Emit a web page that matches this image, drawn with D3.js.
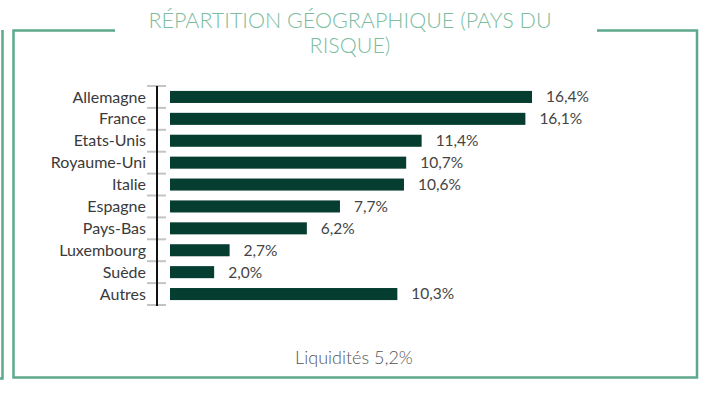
<!DOCTYPE html>
<html>
<head>
<meta charset="utf-8">
<script src="https://cdn.jsdelivr.net/npm/d3@7"></script>
<style>
  body { margin: 0; background: #fff; }
  svg { display: block; font-family: Lato, sans-serif; }
</style>
</head>
<body>
<svg id="chart" width="702" height="417"></svg>
<script>
var countries = ['Allemagne', 'France', 'Etats-Unis', 'Royaume-Uni', 'Italie', 'Espagne', 'Pays-Bas', 'Luxembourg', 'Suède', 'Autres']
var weights = [16.4, 16.1, 11.4, 10.7, 10.6, 7.7, 6.2, 2.7, 2.0, 10.3]
var title_lines = ['RÉPARTITION GÉOGRAPHIQUE (PAYS DU', 'RISQUE)']
var cash_label = 'Liquidités 5,2%'

var data = countries.map(function (c, i) { return { key: c, value: weights[i] } })
var fmt = function (v) { return v.toFixed(1).replace('.', ',') + '%' }

var svg = d3.select('#chart')
var frame_color = '#5ea98c'

// fragment of the neighbouring panel on the left
svg.append('path')
  .attr('d', 'M2.5,30 V378.5 H0')
  .attr('fill', 'none')
  .attr('stroke', frame_color)
  .attr('stroke-width', 2.5)

// frame with a gap for the title
svg.append('path')
  .attr('d', 'M115,30.5 H13.5 V377.5 H697 V30.5 H597')
  .attr('fill', 'none')
  .attr('stroke', frame_color)
  .attr('stroke-width', 2.5)

svg.append('g').selectAll('text')
  .data(title_lines)
  .join('text')
  .attr('x', 350)
  .attr('y', function (d, i) { return 28 + i * 25 })
  .attr('text-anchor', 'middle')
  .attr('fill', '#7cbda0')
  .style('font-size', '21.5px')
  .style('font-weight', 300)
  .text(function (d) { return d })

var x = d3.scaleLinear().domain([0, 16.4]).range([170, 532])
var y = d3.scaleBand().domain(countries).range([86, 305]).paddingInner(0.45).paddingOuter(0.225)

// gray separators between the categories
var step = y.step()
var edges = d3.range(countries.length + 1).map(function (i) { return 86 + i * step })
svg.append('g').selectAll('line')
  .data(edges)
  .join('line')
  .attr('x1', 147)
  .attr('x2', 166)
  .attr('y1', function (d) { return d })
  .attr('y2', function (d) { return d })
  .attr('stroke', '#c4c4c4')
  .attr('stroke-width', 2)

svg.append('line')
  .attr('x1', 157).attr('x2', 157)
  .attr('y1', 86).attr('y2', 306)
  .attr('stroke', '#111')
  .attr('stroke-width', 2)

svg.append('g').selectAll('rect')
  .data(data)
  .join('rect')
  .attr('x', x(0))
  .attr('y', function (d) { return y(d.key) })
  .attr('width', function (d) { return x(d.value) - x(0) })
  .attr('height', y.bandwidth())
  .attr('fill', '#063d31')

svg.append('g').selectAll('text')
  .data(data)
  .join('text')
  .attr('x', 146)
  .attr('y', function (d) { return y(d.key) + y.bandwidth() / 2 })
  .attr('dy', '0.35em')
  .attr('text-anchor', 'end')
  .attr('fill', '#3a3a3a')
  .style('font-size', '16px')
  .text(function (d) { return d.key })

svg.append('g').selectAll('text')
  .data(data)
  .join('text')
  .attr('x', function (d) { return x(d.value) + 14 })
  .attr('y', function (d) { return y(d.key) + y.bandwidth() / 2 })
  .attr('dy', '0.35em')
  .attr('fill', '#444')
  .style('font-size', '15.5px')
  .text(function (d) { return fmt(d.value) })

svg.append('text')
  .attr('x', 354)
  .attr('y', 364)
  .attr('text-anchor', 'middle')
  .attr('fill', '#555')
  .style('font-size', '18px')
  .style('font-weight', 300)
  .text(cash_label)
</script>
</body>
</html>
